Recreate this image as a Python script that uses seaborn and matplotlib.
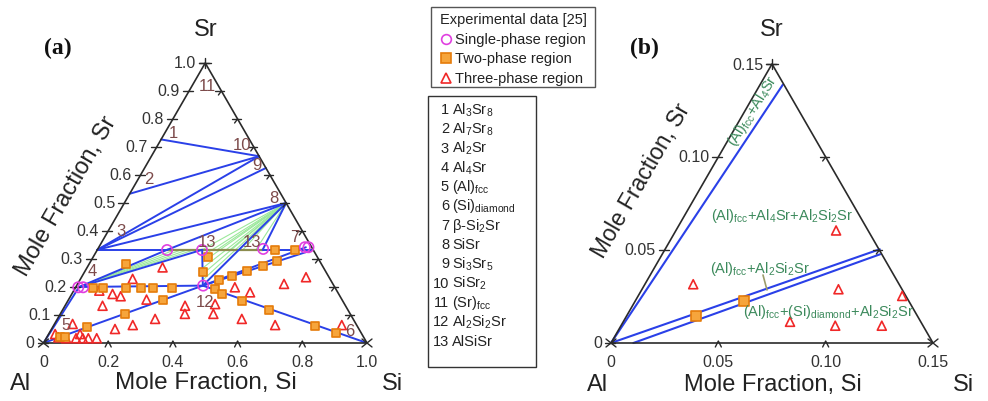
import numpy as np
import pandas as pd
import matplotlib
matplotlib.use("Agg")
import matplotlib.pyplot as plt
import seaborn as sns
from matplotlib.patches import Rectangle
from matplotlib.lines import Line2D

# ---------------- data (mole fractions: Si, Sr) ----------------
node_names = ['1', '2', '3', '4', '5', '6', '7', '7b', '8', '9', '10', '11', '12', '13a', '13b', '13c']
node_si = [0.0, 0.0, 0.0, 0.01, 0.0, 1.0, 0.667, 0.64, 0.5, 0.375, 0.333, 0.0, 0.39, 0.216, 0.324, 0.511]
node_sr = [0.727, 0.533, 0.333, 0.2, 0.0, 0.0, 0.333, 0.342, 0.5, 0.625, 0.667, 1.0, 0.205, 0.333, 0.333, 0.333]

tie_start = ['1', '2', '3', '3', '3', '3', '13a', '4', '4', '4', '5', '5', '13b', '8', '8', '13c', '12', '12', '12']
tie_end = ['10', '10', '10', '9', '8', '13a', '8', '13a', '13b', '12', '4', '12', '12', '13c', '12', '7', '7', '7b', '6']

# green tie-line fans
fan8_si = [0.324, 0.335, 0.347, 0.358, 0.369, 0.380, 0.39, 0.37, 0.41, 0.45, 0.49]
fan8_sr = [0.333, 0.310, 0.288, 0.267, 0.246, 0.225, 0.205, 0.333, 0.333, 0.333, 0.333]
fan4_si = [0.24, 0.26, 0.28, 0.30]
fan4_sr = [0.333, 0.333, 0.333, 0.333]

single_si = [0.008, 0.023, 0.216, 0.324, 0.511, 0.637, 0.648, 0.391]
single_sr = [0.199, 0.199, 0.332, 0.332, 0.336, 0.342, 0.342, 0.205]

two_si = [0.114, 0.053, 0.084, 0.158, 0.204, 0.239, 0.298, 0.291, 0.200, 0.107, 0.038, 0.055,
          0.366, 0.356, 0.430, 0.462, 0.499, 0.540, 0.574, 0.549, 0.611, 0.434, 0.463, 0.537,
          0.638, 0.808, 0.886]
two_sr = [0.282, 0.197, 0.197, 0.197, 0.197, 0.197, 0.197, 0.155, 0.104, 0.056, 0.023, 0.023,
          0.253, 0.306, 0.226, 0.240, 0.258, 0.276, 0.294, 0.333, 0.333, 0.193, 0.175, 0.151,
          0.119, 0.062, 0.036]

three_si = [0.233, 0.161, 0.126, 0.155, 0.079, 0.116, 0.241, 0.302, 0.196, 0.244, 0.371, 0.385,
            0.020, 0.056, 0.097, 0.061, 0.092, 0.113, 0.130, 0.156, 0.036, 0.492, 0.548, 0.638,
            0.694, 0.461, 0.473, 0.570, 0.684, 0.890]
three_sr = [0.270, 0.229, 0.175, 0.167, 0.187, 0.133, 0.155, 0.086, 0.050, 0.064, 0.133, 0.104,
            0.032, 0.068, 0.032, 0.017, 0.017, 0.017, 0.017, 0.017, 0.020, 0.199, 0.181, 0.211,
            0.235, 0.139, 0.104, 0.086, 0.064, 0.064]

# panel (b)
b_line_si0 = [0.0, 0.0, 0.0104]
b_line_sr0 = [0.0, 0.0, 0.0]
b_line_si1 = [0.0106, 0.100, 0.1015]
b_line_sr1 = [0.1388, 0.0504, 0.0477]
b_two_si = [0.0325, 0.0506]
b_two_sr = [0.0143, 0.0227]
b_three_si = [0.0225, 0.0746, 0.0915, 0.123, 0.0777, 0.0998, 0.1215]
b_three_sr = [0.0316, 0.0605, 0.0289, 0.0253, 0.0114, 0.0093, 0.0093]

phase_numbers = ['1', '2', '3', '4', '5', '6', '7', '8', '9', '10', '11', '12', '13']
phase_names = ['Al$_3$Sr$_8$', 'Al$_7$Sr$_8$', 'Al$_2$Sr', 'Al$_4$Sr', '(Al)$_{fcc}$',
               '(Si)$_{diamond}$', r'$\beta$-Si$_2$Sr', 'SiSr', 'Si$_3$Sr$_5$', 'SiSr$_2$',
               '(Sr)$_{fcc}$', 'Al$_2$Si$_2$Sr', 'AlSiSr']
legend_labels = ['Single-phase region', 'Two-phase region', 'Three-phase region']

a_left_ticks = [0.0, 0.1, 0.2, 0.3, 0.4, 0.5, 0.6, 0.7, 0.8, 0.9, 1.0]
a_left_labels = ['0', '0.1', '0.2', '0.3', '0.4', '0.5', '0.6', '0.7', '0.8', '0.9', '1.0']
a_bottom_ticks = [0.0, 0.2, 0.4, 0.6, 0.8, 1.0]
a_bottom_labels = ['0', '0.2', '0.4', '0.6', '0.8', '1.0']
a_right_ticks = [0.1, 0.2, 0.3, 0.4, 0.5, 0.6, 0.7, 0.8, 0.9]
b_left_ticks = [0.0, 0.05, 0.10, 0.15]
b_left_labels = ['0', '0.05', '0.10', '0.15']
b_bottom_ticks = [0.0, 0.05, 0.10, 0.15]
b_bottom_labels = ['0', '0.05', '0.10', '0.15']
b_right_ticks = [0.05, 0.10]

# ---------------- style ----------------
sns.set_theme(style="white")
plt.rcParams['font.family'] = ['Liberation Sans', 'DejaVu Sans']
plt.rcParams['mathtext.default'] = 'regular'

W, H = 988, 402
fig = plt.figure(figsize=(W / 100, H / 100), dpi=100)


def fx(px):
    return px / W


def fy(py):
    return 1 - py / H


SQ = np.sqrt(3) / 2


def cart(si, sr):
    si = np.asarray(si, float)
    sr = np.asarray(sr, float)
    return si + sr / 2, sr * SQ


BLUE = '#2a40e8'
EDGE = '#2a2a2a'
TXT = '#333333'
NUM = '#7d4b4b'
GREENTXT = '#3c8a5c'
MAG = '#e040e0'
ORF = '#f6a53c'
ORE = '#e57c0a'
RED = '#f02828'

ax_a = fig.add_axes([fx(43.5), fy(344), 323.5 / W, 280 / H])
ax_a.set_xlim(0, 1)
ax_a.set_ylim(0, SQ)
ax_b = fig.add_axes([fx(611), fy(344), 322 / W, 279 / H])
ax_b.set_xlim(0, 0.15)
ax_b.set_ylim(0, 0.15 * SQ)
for ax in (ax_a, ax_b):
    ax.set_axis_off()


def frame(ax, s, L, lt, ll, bt, bl, rt):
    x, y = cart([0, s, 0, 0], [0, 0, s, 0])
    ax.plot(x, y, color=EDGE, lw=1.2, clip_on=False, zorder=3)
    kw = dict(color=EDGE, lw=1.0, clip_on=False, zorder=3)
    for v, lab in zip(lt, ll):
        X, Y = cart(0, v)
        ax.plot([X - 6 * L, X + 4 * L], [Y, Y], **kw)
        ax.annotate(lab, xy=(X, Y), xytext=(-9, 0), textcoords='offset pixels',
                    ha='right', va='center', fontsize=11.5, color=TXT)
    for v, lab in zip(bt, bl):
        X, Y = cart(v, 0)
        if 0 < v < s:
            ax.plot([X - 3 * L, X, X + 3 * L], [Y - 4 * L, Y + 2 * L, Y - 4 * L], **kw)
        ax.annotate(lab, xy=(X, Y), xytext=(0, -19), textcoords='offset pixels',
                    ha='center', va='center', fontsize=11.5, color=TXT)
    for v in rt:
        X, Y = cart(s - v, v)
        ax.plot([X - 6 * L, X + 3 * L], [Y, Y], **kw)
        ax.plot([X - 3 * L, X], [Y - 4 * L, Y], **kw)
    # corner crosses
    for (X, Y) in [cart(0, 0), cart(s, 0)]:
        ax.plot([X - 5 * L, X + 5 * L], [Y - 4 * L, Y + 4 * L], **kw)
        ax.plot([X - 5 * L, X + 5 * L], [Y + 4 * L, Y - 4 * L], **kw)
    X, Y = cart(0, s)
    ax.plot([X - 6 * L, X + 6 * L], [Y, Y], **kw)
    ax.plot([X, X], [Y - 5 * L, Y + 5 * L], **kw)


frame(ax_a, 1.0, 1 / 323.5, a_left_ticks, a_left_labels, a_bottom_ticks, a_bottom_labels, a_right_ticks)
frame(ax_b, 0.15, 0.15 / 322, b_left_ticks, b_left_labels, b_bottom_ticks, b_bottom_labels, b_right_ticks)

# ---------------- panel (a) lines ----------------
nodes = pd.DataFrame({'si': node_si, 'sr': node_sr}, index=node_names)
X4, Y4 = cart(nodes.loc['4', 'si'], nodes.loc['4', 'sr'])
for fs, fr in zip(fan4_si, fan4_sr):
    xe, ye = cart(fs, fr)
    ax_a.plot([X4, xe], [Y4, ye], color='#9be89b', lw=0.8, zorder=1)
X8, Y8 = cart(nodes.loc['8', 'si'], nodes.loc['8', 'sr'])
for fs, fr in zip(fan8_si, fan8_sr):
    xe, ye = cart(fs, fr)
    ax_a.plot([X8, xe], [Y8, ye], color='#9be89b', lw=0.8, zorder=1)

x13, y13 = cart([nodes.loc['13a', 'si'], nodes.loc['13c', 'si']], [0.333, 0.333])
ax_a.plot(x13, y13, color='#8c8c4e', lw=1.6, zorder=2)

for a, b in zip(tie_start, tie_end):
    xs, ys = cart([nodes.loc[a, 'si'], nodes.loc[b, 'si']], [nodes.loc[a, 'sr'], nodes.loc[b, 'sr']])
    ax_a.plot(xs, ys, color=BLUE, lw=1.4, zorder=2, clip_on=False)


def markers(ax, si, sr, kind, size):
    X, Y = cart(si, sr)
    if kind == 'single':
        sns.scatterplot(x=X, y=Y, ax=ax, marker='o', s=size, color=MAG, linewidth=1.2,
                        clip_on=False, zorder=5, legend=False)
        pc = ax.collections[-1]
        pc.set_facecolor('none')
        pc.set_edgecolor(MAG)
    elif kind == 'two':
        sns.scatterplot(x=X, y=Y, ax=ax, marker='s', s=size, color=ORF, linewidth=1.2,
                        clip_on=False, zorder=5, legend=False)
        pc = ax.collections[-1]
        pc.set_facecolor(ORF)
        pc.set_edgecolor(ORE)
    else:
        sns.scatterplot(x=X, y=Y, ax=ax, marker='^', s=size, color=RED, linewidth=1.2,
                        clip_on=False, zorder=5, legend=False)
        pc = ax.collections[-1]
        pc.set_facecolor('none')
        pc.set_edgecolor(RED)


markers(ax_a, three_si, three_sr, 'three', 42)
markers(ax_a, two_si, two_sr, 'two', 38)
markers(ax_a, single_si, single_sr, 'single', 55)

# ---------------- panel (b) ----------------
for s0, r0, s1, r1 in zip(b_line_si0, b_line_sr0, b_line_si1, b_line_sr1):
    xs, ys = cart([s0, s1], [r0, r1])
    ax_b.plot(xs, ys, color=BLUE, lw=1.5, zorder=2, clip_on=False)
markers(ax_b, b_three_si, b_three_sr, 'three', 42)
markers(ax_b, b_two_si, b_two_sr, 'two', 42)

# ---------------- texts ----------------
num_pos = [('11', 207, 87), ('1', 173, 133), ('2', 149, 180), ('3', 121, 232), ('4', 92, 272),
           ('5', 66, 326), ('10', 242, 146), ('9', 257, 166), ('8', 274, 199), ('7', 295, 238),
           ('13', 207, 243), ('13', 252, 243), ('12', 205, 303), ('6', 350, 332)]
for t, px, py in num_pos:
    fig.text(fx(px), fy(py), t, ha='center', va='center', fontsize=12, color=NUM, zorder=6)

big = 17
for (t, px, py) in [('Sr', 206, 30), ('Al', 21, 384), ('Si', 392, 384),
                    ('Sr', 772, 30), ('Al', 598, 385), ('Si', 963, 385)]:
    fig.text(fx(px), fy(py), t, ha='center', va='center', fontsize=big, color='#222222')
fig.text(fx(206), fy(383), 'Mole Fraction, Si', ha='center', va='center', fontsize=17.5, color='#222222')
fig.text(fx(773), fy(385), 'Mole Fraction, Si', ha='center', va='center', fontsize=17, color='#222222')
fig.text(fx(66), fy(196), 'Mole Fraction, Sr', ha='center', va='center', fontsize=17,
         color='#222222', rotation=60, rotation_mode='anchor')
fig.text(fx(641), fy(181), 'Mole Fraction, Sr', ha='center', va='center', fontsize=16.5,
         color='#222222', rotation=60, rotation_mode='anchor')
fig.text(fx(58), fy(48), '(a)', ha='center', va='center', fontsize=17, fontweight='bold',
         family='Liberation Serif', color='#111111')
fig.text(fx(644), fy(48), '(b)', ha='center', va='center', fontsize=17, fontweight='bold',
         family='Liberation Serif', color='#111111')

# panel (b) region labels
fig.text(fx(753), fy(111), '(Al)$_{fcc}$+Al$_4$Sr', ha='center', va='center', fontsize=10.5,
         color=GREENTXT, rotation=58, rotation_mode='anchor')
fig.text(fx(782), fy(216), '(Al)$_{fcc}$+Al$_4$Sr+Al$_2$Si$_2$Sr', ha='center', va='center',
         fontsize=10.5, color=GREENTXT)
fig.text(fx(760), fy(269), '(Al)$_{fcc}$+Al$_2$Si$_2$Sr', ha='center', va='center',
         fontsize=10.5, color=GREENTXT)
fig.text(fx(828), fy(312), '(Al)$_{fcc}$+(Si)$_{diamond}$+Al$_2$Si$_2$Sr', ha='center', va='center',
         fontsize=10.5, color=GREENTXT)
fig.add_artist(Line2D([fx(763), fx(767)], [fy(276), fy(291)], color='#9c9c6a', lw=1.2,
                      transform=fig.transFigure))

# legend box (experimental data)
fig.add_artist(Rectangle((fx(431), fy(88)), 164 / W, 80 / H, transform=fig.transFigure,
                         fill=False, edgecolor='#555555', lw=1.0))
fig.text(fx(440), fy(20), 'Experimental data [25]', ha='left', va='center', fontsize=10.5, color='#222222')
leg_styles = [('o', 'none', MAG), ('s', ORF, ORE), ('^', 'none', RED)]
for i, ((mk, fc, ec), lab) in enumerate(zip(leg_styles, legend_labels)):
    yy = 40 + 19.3 * i
    fig.add_artist(Line2D([fx(446)], [fy(yy)], marker=mk, markersize=7, markerfacecolor=fc,
                          markeredgecolor=ec, markeredgewidth=1.2, linestyle='none',
                          transform=fig.transFigure))
    fig.text(fx(455), fy(yy), lab, ha='left', va='center', fontsize=10.5, color='#222222')

# phase list box
fig.add_artist(Rectangle((fx(428), fy(368)), 108 / W, 271 / H, transform=fig.transFigure,
                         fill=False, edgecolor='#333333', lw=1.0))
for i, (n, name) in enumerate(zip(phase_numbers, phase_names)):
    yy = 110 + 19.3 * i
    fig.text(fx(449), fy(yy), n, ha='right', va='center', fontsize=10.5, color='#222222')
    fig.text(fx(452), fy(yy), name, ha='left', va='center', fontsize=10.5, color='#222222')

fig.savefig('out.png', dpi=100, facecolor='white')
